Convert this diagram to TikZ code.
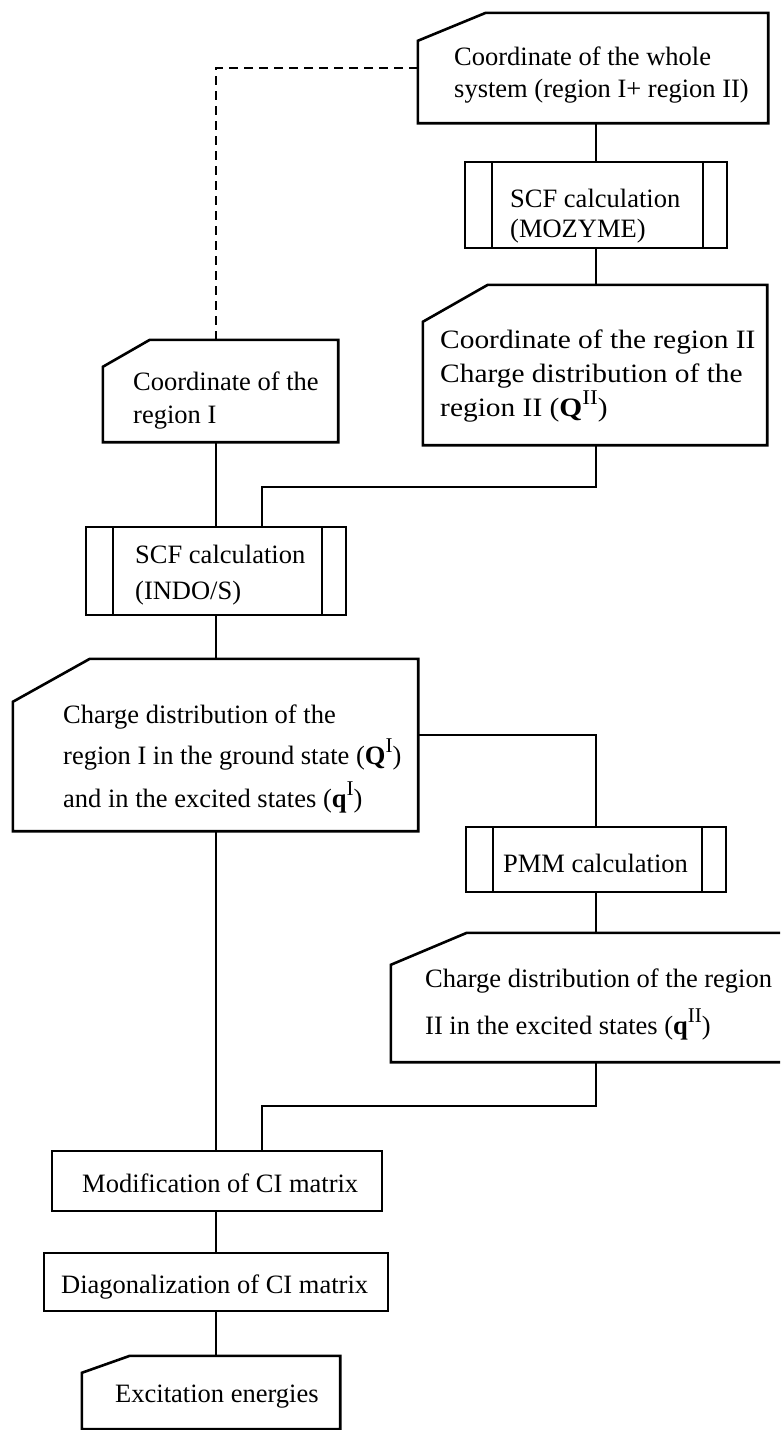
\documentclass[tikz,border=0pt]{standalone}
\usepackage{fontspec}
\setmainfont{Liberation Serif}
\newfontfamily\widefont[FakeStretch=1.11]{Liberation Serif}
\usetikzlibrary{calc}

% raised upright superscript used in the charge labels
\newcommand\upsup[1]{\raisebox{0.45em}{\fontsize{21}{21}\selectfont #1}}

% outline of a data box whose north-west corner is cut off
\newcommand\chamferoutline[3]{%
  \draw[outline] ([xshift=#2]#1.north west) -- (#1.north east) -- (#1.south east)
    -- (#1.south west) -- ([yshift=-#3]#1.north west) -- cycle;}

\begin{document}
\begin{tikzpicture}[x=1pt,y=-1pt,
  outline/.style={line width=2.6pt, line join=miter},
  databox/.style={rectangle, draw=none, inner sep=0pt},
  plainbox/.style={rectangle, draw, line width=2.6pt, inner sep=0pt},
  procbox/.style={rectangle, draw, line width=2.6pt, inner sep=0pt,
    path picture={
      \draw[line width=2pt] ([xshift=27pt]path picture bounding box.north west)
        -- ([xshift=27pt]path picture bounding box.south west);
      \draw[line width=2pt] ([xshift=-24pt]path picture bounding box.north east)
        -- ([xshift=-24pt]path picture bounding box.south east);}},
  boxtext/.style={anchor=north west, align=left, inner sep=0pt,
    font=\fontsize{26.5}{#1}\selectfont},
  boxtext/.default=33,
  widetext/.style={anchor=north west, align=left, inner sep=0pt,
    font=\widefont\fontsize{26.5}{#1}\selectfont},
  link/.style={line width=1.9pt},
  dashlink/.style={line width=1.9pt, dash pattern=on 9pt off 6pt},
]
\clip (0,0) rectangle (780,1430);
\fill[white] (0,0) rectangle (780,1430);

% ---- boxes ----
\node[databox, minimum width=350pt, minimum height=110pt] (W) at (593,68) {};
\chamferoutline{W}{68pt}{28pt}
\node[boxtext=32] (Wt) at (454,47) {Coordinate of the whole\\system (region I+ region II)};

\node[procbox, minimum width=262pt, minimum height=86pt] (M) at (596,205) {};
\node[boxtext=30] (Mt) at (510,189) {SCF calculation\\(MOZYME)};

\node[databox, minimum width=344pt, minimum height=160pt] (R2) at (595,365) {};
\chamferoutline{R2}{65pt}{37pt}
\node[widetext=34] (R2t) at (440,330)
  {Coordinate of the region II\\Charge distribution of the\\region II (\textbf{Q}\upsup{II})};

\node[databox, minimum width=235pt, minimum height=102pt] (R1) at (220.5,391) {};
\chamferoutline{R1}{47pt}{27pt}
\node[boxtext=33] (R1t) at (133,372) {Coordinate of the\\region I};

\node[procbox, minimum width=260pt, minimum height=88pt] (I) at (216,571) {};
\node[boxtext=36] (It) at (135,545) {SCF calculation\\(INDO/S)};

\node[databox, minimum width=405pt, minimum height=172pt] (C1) at (215.5,745) {};
\chamferoutline{C1}{77pt}{43pt}
\node[boxtext=41] (C1t) at (63,705)
  {Charge distribution of the\\region I in the ground state (\textbf{Q}\upsup{I})\\[2pt]and in the excited states (\textbf{q}\upsup{I})};

\node[procbox, minimum width=260pt, minimum height=65pt] (P) at (596,859.5) {};
\node[boxtext] (Pt) at (503,854) {PMM calculation};

\node[databox, minimum width=409pt, minimum height=129pt] (C2) at (595.5,997.5) {};
\chamferoutline{C2}{76pt}{32pt}
\node[boxtext=47] (C2t) at (425,969)
  {Charge distribution of the region\\II in the excited states (\textbf{q}\upsup{II})};

\node[plainbox, minimum width=330pt, minimum height=60pt] (Mo) at (217,1181) {};
\node[boxtext] (Mot) at (82,1174) {Modification of CI matrix};

\node[plainbox, minimum width=344pt, minimum height=58pt] (D) at (216,1282) {};
\node[boxtext] (Dt) at (61,1275) {Diagonalization of CI matrix};

\node[databox, minimum width=258pt, minimum height=73pt] (E) at (211,1392.5) {};
\chamferoutline{E}{48pt}{17pt}
\node[boxtext] (Et) at (115,1385) {Excitation energies};

% ---- connectors ----
\draw[dashlink] (W.west) -| (R1.north -| I.north);
\draw[link] (M.north) -- (M.north |- W.south);
\draw[link] (M.south) -- (M.south |- R2.north);
\draw[link] (R2.south -| M.south) -- ++(0,42) -| ([xshift=46pt]I.north);
\draw[link] (R1.south -| I.north) -- (I.north);
\draw[link] (I.south) -- (I.south |- C1.north);
\draw[link] ([yshift=10pt]C1.east) -| (P.north);
\draw[link] (P.south) -- (P.south |- C2.north);
\draw[link] (I.south |- C1.south) -- (I.south |- Mo.north);
\draw[link] (C2.south -| P.south) -- ++(0,44) -| ([xshift=46pt]I.south |- Mo.north);
\draw[link] (Mo.south -| I.south) -- (D.north -| I.south);
\draw[link] (D.south -| I.south) -- (E.north -| I.south);
\end{tikzpicture}
\end{document}
